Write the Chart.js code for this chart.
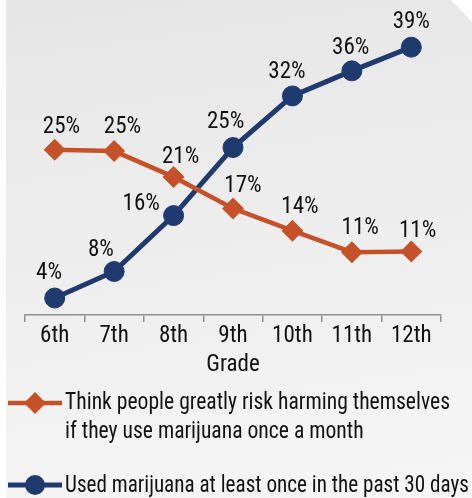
<!DOCTYPE html>
<html><head><meta charset="utf-8">
<script src="https://cdn.jsdelivr.net/npm/chart.js@4/dist/chart.umd.min.js"></script>
<style>
html,body{margin:0;padding:0;background:#fff;width:472px;height:498px;overflow:hidden}
#bg{position:absolute;left:6px;top:0;width:466px;height:498px;background:linear-gradient(172deg,#e6e6e6 0%,#eeeeee 50%,#f6f6f6 100%);clip-path:polygon(0 0,445px 0,466px 22px,466px 498px,0 498px)}
#wrap{position:absolute;left:0;top:0;width:472px;height:498px}
</style></head><body>
<div id="bg"></div>
<div id="wrap"><canvas id="c"></canvas></div>
<script>
// ---- data ----
const grades = ['6th','7th','8th','9th','10th','11th','12th'];
const riskValues = [24.7, 24.5, 20.9, 16.5, 13.4, 10.4, 10.5];
const riskLabels = ['25%','25%','21%','17%','14%','11%','11%'];
const useValues = [4.0, 7.7, 15.5, 25.0, 32.2, 35.7, 39.0];
const useLabels = ['4%','8%','16%','25%','32%','36%','39%'];
const axisTitle = 'Grade';
const riskName = ['Think people greatly risk harming themselves', 'if they use marijuana once a month'];
const useName = ['Used marijuana at least once in the past 30 days'];

// ---- styles ----
const ORANGE = '#c55128';
const BLUE = '#1f3a6e';
const TEXT = '#111111';
const FAMILY = 'Roboto, "DejaVu Sans", sans-serif';
const STRETCH = 'condensed';
const riskOffsets = [[6.7,-22.6],[8.3,-24.3],[7,-20],[10,-22.6],[7.5,-23.4],[8.3,-24],[6.3,-20]];
const useOffsets = [[-5.7,-25],[-13.3,-21],[-32.4,-11],[-7.4,-25],[-5.5,-24],[-1.2,-23],[0,-25]];

const valueLabels = {
  id: 'valueLabels',
  afterDatasetsDraw(chart) {
    const ctx = chart.ctx;
    ctx.save();
    ctx.font = STRETCH + ' 23px ' + FAMILY;
    ctx.fillStyle = TEXT;
    ctx.textAlign = 'center';
    ctx.textBaseline = 'middle';
    chart.data.datasets.forEach((ds, di) => {
      const meta = chart.getDatasetMeta(di);
      meta.data.forEach((pt, i) => {
        const off = ds.labelOffsets[i];
        ctx.fillText(ds.labelTexts[i], pt.x + off[0], pt.y + off[1]);
      });
    });
    ctx.restore();
  }
};

const customLegend = {
  id: 'customLegend',
  afterDraw(chart) {
    const ctx = chart.ctx;
    ctx.save();
    ctx.strokeStyle = ORANGE; ctx.lineWidth = 4.5;
    ctx.beginPath(); ctx.moveTo(8, 403); ctx.lineTo(62, 403); ctx.stroke();
    ctx.fillStyle = ORANGE;
    ctx.beginPath(); ctx.moveTo(35, 392); ctx.lineTo(46, 403); ctx.lineTo(35, 414); ctx.lineTo(24, 403); ctx.closePath(); ctx.fill();
    ctx.strokeStyle = BLUE; ctx.lineWidth = 5;
    ctx.beginPath(); ctx.moveTo(8, 485); ctx.lineTo(62, 485); ctx.stroke();
    ctx.fillStyle = BLUE;
    ctx.beginPath(); ctx.arc(35, 485, 10, 0, Math.PI * 2); ctx.fill();
    ctx.font = STRETCH + ' 23.5px ' + FAMILY;
    ctx.fillStyle = TEXT;
    ctx.textAlign = 'left';
    ctx.textBaseline = 'alphabetic';
    const k1 = 385 / ctx.measureText(riskName[0]).width;
    const k3 = 404 / ctx.measureText(useName[0]).width;
    const line = (t, y, k) => { ctx.save(); ctx.translate(65, y); ctx.scale(k, 1); ctx.fillText(t, 0, 0); ctx.restore(); };
    line(riskName[0], 409, k1);
    line(riskName[1], 438, k1);
    line(useName[0], 492, k3);
    ctx.restore();
  }
};

new Chart(document.getElementById('c'), {
  type: 'line',
  data: {
    labels: grades,
    datasets: [
      {
        label: riskName.join(' '),
        data: riskValues,
        labelTexts: riskLabels,
        labelOffsets: riskOffsets,
        borderColor: ORANGE,
        backgroundColor: ORANGE,
        borderWidth: 4.5,
        pointStyle: 'rectRot',
        pointRadius: 11,
        pointBorderWidth: 0,
        tension: 0
      },
      {
        label: useName[0],
        data: useValues,
        labelTexts: useLabels,
        labelOffsets: useOffsets,
        borderColor: BLUE,
        backgroundColor: BLUE,
        borderWidth: 5,
        pointStyle: 'circle',
        pointRadius: 10,
        pointBorderWidth: 1,
        tension: 0
      }
    ]
  },
  options: {
    responsive: true,
    maintainAspectRatio: false,
    devicePixelRatio: 1,
    animation: false,
    layout: { padding: { left: 25, right: 31, top: 10, bottom: 119 } },
    plugins: { legend: { display: false }, tooltip: { enabled: false } },
    scales: {
      x: {
        type: 'category',
        offset: true,
        grid: { offset: true, drawOnChartArea: false, drawTicks: true, tickLength: 7, color: '#8f8f8f', lineWidth: 1.5 },
        border: { display: true, color: '#8f8f8f', width: 1.5 },
        ticks: { color: TEXT, font: { family: FAMILY, size: 23, weight: STRETCH, lineHeight: 1.2 }, padding: 0, maxRotation: 0, autoSkip: false },
        title: { display: true, text: axisTitle, color: TEXT, font: { family: FAMILY, size: 23, weight: STRETCH, lineHeight: 1.2 }, padding: 0 },
        afterFit(scale) { scale.height = 64; }
      },
      y: {
        display: false,
        min: 1.63,
        max: 44.05
      }
    }
  },
  plugins: [valueLabels, customLegend]
});
</script>
</body></html>
